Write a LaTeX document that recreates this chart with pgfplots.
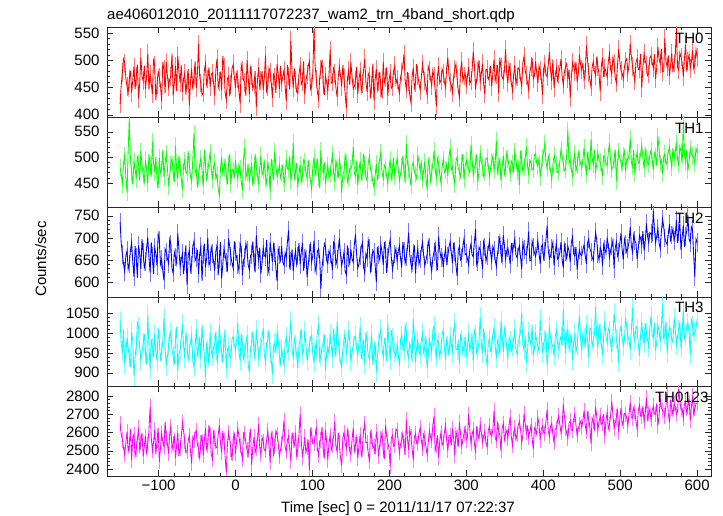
\documentclass[border=0pt]{standalone}
\usepackage{fontspec}
\setmainfont{Liberation Sans}
\usepackage{pgfplots}
\pgfplotsset{compat=1.18}
\usepackage{pgfplotstable}
\definecolor{cR}{RGB}{255,0,0}
\definecolor{cG}{RGB}{0,255,0}
\definecolor{cB}{RGB}{0,0,255}
\definecolor{cC}{RGB}{0,255,255}
\definecolor{cM}{RGB}{255,0,255}
\definecolor{lR}{RGB}{255,120,120}
\definecolor{lG}{RGB}{130,255,130}
\definecolor{lB}{RGB}{120,120,255}
\definecolor{lC}{RGB}{130,255,255}
\definecolor{lM}{RGB}{255,120,255}

\pgfplotstableread{
t a b c d e
-150 420 480 735 1030 2650
-148.5 455 468 688 972 2590
-147 478 445 662 955 2560
-145.5 502 489 641 1008 2515
-144 495 503 624 921 2480
-142.5 468 461 659 947 2540
-141 452 431 671 988 2605
-139.5 439 512 629 962 2495
-138 466 575 641 940 2530
-136.5 481 493 672 915 2620
-135 441 470 690 1002 2450
-133.5 463 447 645 980 2575
-132 488 492 612 893 2590
-130.5 447 478 681 938 2470
-129 470 458 655 967 2510
-127.5 492 503 610 1026 2560
-126 430 487 683 1015 2625
-124.5 458 455 664 961 2505
-123 505 512 630 932 2545
-121.5 471 484 697 949 2600
-120 462 466 667 975 2470
-118.5 490 452 632 998 2525
-117 447 495 646 948 2580
-115.5 471 476 679 921 2490
-114 512 449 701 1045 2535
-112.5 446 507 657 969 2610
-111 475 483 622 910 2740
-109.5 458 462 690 985 2575
-108 438 530 659 962 2500
-106.5 503 489 618 940 2545
-105 490 471 678 997 2615
-103.5 427 501 664 952 2480
-102 455 455 637 929 2555
-100.5 480 440 709 1013 2625
-99 468 499 695 981 2440
-97.5 454 470 640 935 2515
-96 425 476 651 951 2595
-94.5 497 515 625 978 2550
-93 483 462 604 1038 2520
-91.5 440 488 675 960 2660
-90 497 507 668 918 2570
-88.5 472 480 653 940 2540
-87 451 444 642 966 2485
-85.5 465 465 697 995 2595
-84 470 488 686 1003 2630
-82.5 512 498 630 957 2505
-81 436 470 620 942 2540
-79.5 458 452 668 921 2580
-78 489 522 657 985 2460
-76.5 444 475 642 1015 2530
-75 508 459 710 904 2600
-73.5 479 503 674 946 2470
-72 459 481 635 958 2515
-70.5 491 460 651 987 2575
-69 442 437 664 1022 2655
-67.5 466 486 618 969 2610
-66 476 494 648 937 2550
-64.5 437 471 683 1004 2490
-63 463 468 593 971 2495
-61.5 484 512 660 932 2555
-60 418 485 672 950 2585
-58.5 461 463 626 978 2500
-57 485 452 639 993 2430
-55.5 446 495 681 930 2575
-54 471 547 692 915 2560
-52.5 498 470 648 966 2600
-51 449 477 655 1010 2610
-49.5 476 441 673 946 2535
-48 530 461 618 962 2505
-46.5 469 487 665 990 2460
-45 458 498 680 934 2545
-43.5 436 474 602 1021 2590
-42 440 443 661 979 2475
-40.5 481 515 687 943 2555
-39 494 486 633 888 2625
-37.5 455 458 654 971 2510
-36 466 472 700 956 2530
-34.5 487 492 638 917 2640
-33 452 509 647 1000 2590
-31.5 474 479 679 958 2480
-30 477 456 665 941 2455
-28.5 459 482 647 965 2600
-27 435 490 626 972 2570
-25.5 483 459 670 1004 2515
-24 503 467 684 926 2520
-22.5 450 437 615 949 2585
-21 461 426 652 1018 2640
-19.5 479 479 691 977 2545
-18 445 501 608 953 2490
-16.5 508 468 640 925 2610
-15 487 479 676 986 2555
-13.5 441 492 662 1001 2470
-12 428 463 644 909 2380
-10.5 466 451 629 958 2535
-9 470 488 699 964 2600
-7.5 434 506 681 941 2560
-6 456 448 658 937 2510
-4.5 485 477 643 985 2445
-3 492 474 631 991 2565
-1.5 470 463 692 970 2590
0 449 495 669 958 2485
1.5 476 471 655 983 2555
3 466 458 640 1025 2620
4.5 441 486 624 951 2580
6 421 477 687 930 2530
7.5 492 452 679 997 2490
9 481 436 615 969 2455
10.5 463 498 650 936 2600
12 459 519 655 946 2595
13.5 435 459 688 974 2540
15 500 470 673 995 2505
16.5 469 483 638 920 2475
18 438 452 628 901 2560
19.5 485 472 661 960 2620
21 472 489 662 977 2425
22.5 447 444 692 1003 2515
24 455 465 645 954 2575
25.5 480 507 622 939 2490
27 414 481 706 1008 2515
28.5 462 466 670 976 2560
30 487 447 650 939 2645
31.5 451 479 678 962 2520
33 463 503 619 966 2480
34.5 480 465 643 990 2575
36 446 474 678 1012 2550
37.5 468 490 660 945 2500
39 509 460 657 927 2500
40.5 443 448 695 975 2560
42 452 491 634 983 2610
43.5 486 474 621 1007 2530
45 478 433 690 950 2435
46.5 459 497 667 931 2595
48 431 478 645 896 2565
49.5 474 455 684 968 2480
51 469 512 667 974 2525
52.5 440 483 631 950 2610
54 493 463 602 1001 2590
55.5 476 471 676 982 2545
57 447 485 661 944 2470
58.5 489 460 649 923 2505
60 458 469 681 961 2540
61.5 470 486 645 938 2585
63 482 449 638 920 2665
64.5 453 461 666 977 2520
66 425 497 655 990 2495
67.5 491 478 691 951 2560
69 471 476 717 955 2580
70.5 446 502 629 994 2505
72 536 455 648 1031 2445
73.5 478 471 674 960 2600
75 450 528 625 936 2555
76.5 485 459 653 987 2530
78 464 471 671 970 2600
79.5 442 489 640 943 2470
81 440 442 659 912 2510
82.5 475 467 688 969 2590
84 489 486 640 982 2700
85.5 456 452 668 1010 2555
87 461 466 688 948 2465
88.5 498 495 626 955 2515
90 437 491 653 1004 2575
91.5 462 470 669 970 2490
93 474 458 611 931 2520
94.5 489 495 637 955 2560
96 498 474 666 967 2395
97.5 447 453 684 988 2615
99 452 438 645 994 2590
100.5 477 482 660 946 2540
102 557 500 694 925 2540
103.5 490 466 625 973 2580
105 466 480 636 958 2630
106.5 441 497 670 1002 2505
108 429 462 675 1019 2475
109.5 470 440 652 931 2555
111 483 513 585 942 2560
112.5 501 475 633 964 2630
114 455 471 658 976 2505
115.5 436 490 687 995 2470
117 471 447 679 905 2615
118.5 460 469 648 950 2545
120 444 484 642 963 2450
121.5 473 460 671 947 2540
123 519 467 663 998 2585
124.5 458 490 648 969 2505
126 460 505 627 938 2530
127.5 485 471 690 1011 2580
129 476 452 685 972 2660
130.5 450 496 639 940 2525
132 433 476 651 1027 2495
133.5 468 459 674 982 2600
135 488 495 699 951 2545
136.5 472 482 661 926 2460
138 452 431 637 915 2420
139.5 491 466 650 959 2570
141 467 473 668 984 2600
142.5 439 505 624 998 2540
144 412 489 616 946 2515
145.5 466 452 683 967 2610
147 481 460 656 1006 2570
148.5 455 478 641 981 2495
150 496 478 674 929 2480
151.5 470 485 652 951 2560
153 448 521 645 968 2625
154.5 452 469 686 989 2500
156 463 464 708 992 2535
157.5 488 493 660 960 2575
159 438 446 632 943 2460
160.5 466 474 641 976 2530
162 479 493 660 1014 2590
163.5 443 458 679 935 2475
165 457 470 689 957 2510
166.5 482 507 633 983 2615
168 503 485 621 921 2650
169.5 459 461 664 1002 2545
171 442 455 654 979 2545
172.5 476 488 695 944 2490
174 470 502 677 935 2440
175.5 430 476 626 966 2600
177 455 468 643 997 2580
178.5 494 452 672 920 2515
180 426 441 667 952 2525
181.5 465 466 638 977 2480
183 484 487 600 903 2605
184.5 447 455 679 941 2560
186 461 474 661 975 2470
187.5 478 498 650 996 2535
189 449 510 684 1009 2565
190.5 430 470 667 958 2600
192 497 459 639 940 2500
193.5 459 485 690 987 2455
195 468 480 672 966 2640
196.5 487 463 620 929 2580
198 435 449 655 1023 2545
199.5 463 479 681 971 2510
201 476 496 696 933 2415
202.5 449 458 657 1007 2570
204 452 472 628 987 2585
205.5 481 500 645 955 2525
207 490 463 663 949 2530
208.5 457 481 676 939 2620
210 465 499 648 971 2610
211.5 452 478 669 945 2555
213 440 454 682 918 2490
214.5 469 467 654 983 2535
216 478 482 633 996 2560
217.5 491 503 691 960 2595
219 511 468 670 955 2520
220.5 462 455 642 1019 2490
222 447 527 657 1002 2670
223.5 478 490 677 948 2565
225 460 476 712 937 2505
226.5 436 461 663 974 2620
228 423 445 641 962 2580
229.5 470 484 629 927 2515
231 486 490 666 1036 2450
232.5 448 472 683 993 2575
234 458 466 619 926 2595
235.5 493 458 658 966 2540
237 472 505 675 980 2540
238.5 457 489 640 951 2600
240 445 473 652 945 2625
241.5 468 489 674 980 2560
243 493 458 690 999 2515
244.5 477 474 661 951 2590
246 462 492 637 963 2570
247.5 450 461 649 992 2520
249 437 437 662 911 2480
250.5 489 496 693 942 2545
252 481 484 679 985 2610
253.5 465 453 640 970 2575
255 454 470 625 953 2555
256.5 482 488 655 1006 2640
258 470 513 668 1018 2690
259.5 446 476 687 957 2500
261 416 461 646 939 2530
262.5 472 497 627 981 2585
264 489 488 703 974 2465
265.5 458 467 671 939 2555
267 463 450 655 960 2600
268.5 484 481 663 995 2530
270 476 496 633 1007 2545
271.5 460 470 659 963 2600
273 450 475 676 932 2640
274.5 487 487 644 984 2555
276 505 464 659 968 2500
277.5 473 501 680 941 2585
279 459 518 691 990 2585
280.5 454 476 666 975 2530
282 441 482 642 947 2620
283.5 470 460 689 1009 2570
285 484 448 669 1024 2475
286.5 493 492 638 958 2610
288 466 501 614 958 2570
289.5 445 479 672 976 2520
291 432 471 681 922 2655
292.5 481 462 650 993 2595
294 498 489 654 983 2525
295.5 462 507 681 948 2560
297 471 457 698 965 2595
298.5 476 484 662 986 2625
300 455 494 664 941 2560
301.5 471 483 652 968 2575
303 488 478 639 1001 2700
304.5 457 470 673 953 2620
306 463 524 686 975 2540
307.5 482 496 662 992 2590
309 516 466 657 928 2615
310.5 491 480 690 1006 2540
312 447 487 720 994 2490
313.5 466 506 638 948 2635
315 479 452 646 956 2590
316.5 500 474 679 981 2565
318 461 508 673 1040 2645
319.5 475 492 655 969 2600
321 494 481 629 949 2550
322.5 458 463 691 1011 2580
324 438 470 679 978 2605
325.5 483 498 647 943 2545
327 483 499 660 917 2520
328.5 465 485 676 975 2610
330 470 462 692 986 2635
331.5 489 478 666 955 2590
333 452 491 648 961 2580
334.5 476 503 681 998 2615
336 501 475 671 1013 2720
337.5 462 490 650 967 2570
339 474 532 635 937 2555
340.5 491 471 663 980 2650
342 440 484 684 970 2610
343.5 505 497 702 946 2585
345 487 455 663 1029 2500
346.5 469 480 647 993 2625
348 465 503 706 952 2650
349.5 481 467 684 1011 2560
351 520 479 652 995 2595
352.5 475 509 670 962 2610
354 458 497 677 934 2570
355.5 493 484 660 988 2640
357 478 468 641 981 2685
358.5 458 493 688 955 2575
360 444 488 668 964 2530
361.5 473 470 683 985 2600
363 491 511 697 1011 2625
364.5 455 496 661 959 2560
366 469 473 655 946 2590
367.5 486 487 672 976 2640
369 483 446 682 989 2660
370.5 464 513 655 1002 2615
372 453 496 630 1051 2545
373.5 495 471 690 970 2585
375 507 481 674 958 2705
376.5 481 500 662 994 2650
378 472 520 661 924 2600
379.5 459 484 680 953 2630
381 446 465 714 1003 2575
382.5 478 495 648 982 2605
384 489 490 649 972 2640
385.5 504 476 693 1020 2570
387 466 476 679 942 2510
388.5 471 505 667 961 2625
390 498 507 658 997 2615
391.5 477 488 671 981 2590
393 458 483 693 967 2680
394.5 490 499 665 952 2645
396 481 462 641 1035 2560
397.5 466 480 680 990 2620
399 436 499 685 950 2635
400.5 485 511 654 976 2600
402 493 527 669 983 2595
403.5 473 492 697 1003 2660
405 470 478 727 919 2725
406.5 492 503 672 957 2610
408 515 491 653 1016 2580
409.5 481 474 659 985 2635
411 462 456 676 975 2650
412.5 501 485 690 964 2590
414 449 504 637 943 2545
415.5 472 496 668 991 2620
417 486 486 688 1006 2620
418.5 463 470 652 975 2665
420 474 470 655 960 2690
421.5 486 492 667 977 2645
423 502 515 690 992 2600
424.5 471 502 650 968 2630
426 455 489 632 1058 2755
427.5 479 474 684 989 2690
429 488 477 668 948 2625
430.5 494 506 653 1004 2595
432 467 553 681 1008 2570
433.5 483 488 670 959 2650
435 431 494 645 974 2665
436.5 469 479 690 995 2615
438 496 461 702 931 2610
439.5 488 494 664 976 2675
441 479 508 659 999 2700
442.5 497 472 680 952 2640
444 460 484 628 966 2585
445.5 475 510 655 1008 2620
447 510 498 672 1044 2645
448.5 492 488 662 985 2660
450 483 479 660 955 2630
451.5 494 496 673 998 2665
453 465 519 684 987 2720
454.5 472 488 660 970 2640
456 527 466 641 1021 2605
457.5 501 506 688 983 2705
459 478 493 697 939 2675
460.5 465 475 676 1011 2635
462 451 535 668 1012 2540
463.5 488 499 656 964 2680
465 497 487 649 979 2660
466.5 480 515 682 996 2620
468 472 472 712 1066 2740
469.5 507 486 695 987 2690
471 488 509 663 962 2615
472.5 474 494 649 1023 2660
474 443 491 678 998 2690
475.5 490 479 670 972 2645
477 505 463 637 945 2650
478.5 469 503 685 990 2700
480 486 501 674 1030 2580
481.5 478 488 665 990 2665
483 469 484 698 976 2710
484.5 497 509 686 1012 2620
486 512 528 656 1004 2645
487.5 483 493 671 975 2690
489 474 476 682 952 2770
490.5 505 481 694 998 2700
492 495 497 631 1049 2625
493.5 468 515 677 1021 2650
495 458 454 691 985 2685
496.5 491 490 659 968 2720
498 521 512 667 927 2600
499.5 499 499 688 1004 2675
501 481 489 710 1017 2735
502.5 476 478 672 989 2640
504 466 503 651 968 2660
505.5 488 512 697 982 2705
507 499 473 685 1039 2700
508.5 503 497 668 1015 2680
510 477 495 676 993 2640
511.5 492 505 692 979 2700
513 530 537 725 958 2765
514.5 506 491 681 1008 2680
516 489 482 668 1062 2680
517.5 475 514 707 992 2735
519 462 469 694 980 2715
520.5 497 497 688 1017 2660
522 503 510 652 1010 2620
523.5 483 488 676 973 2720
525 484 491 706 943 2750
526.5 511 507 699 995 2690
528 449 523 684 1027 2690
529.5 488 499 715 986 2745
531 512 478 671 974 2660
532.5 499 515 690 1025 2705
534 491 499 733 1001 2790
535.5 472 489 704 983 2675
537 475 486 689 965 2705
538.5 504 503 712 1012 2730
540 508 514 710 1043 2670
541.5 496 498 697 994 2720
543 486 475 762 988 2745
544.5 511 509 719 1026 2700
546 466 502 689 956 2700
547.5 487 483 704 977 2760
549 524 541 721 1020 2640
550.5 503 517 688 1003 2690
552 494 488 676 978 2780
553.5 521 495 714 1015 2735
555 479 468 743 1071 2720
556.5 480 502 726 987 2715
558 540 507 700 996 2690
559.5 498 486 690 1030 2750
561 488 493 685 949 2810
562.5 509 511 709 992 2705
564 471 520 731 1014 2655
565.5 492 497 695 1009 2770
567 513 481 706 983 2735
568.5 478 518 721 976 2695
570 495 498 694 1037 2760
571.5 508 510 705 1011 2740
573 559 529 740 970 2700
574.5 487 496 688 990 2715
576 482 486 715 1008 2840
577.5 514 521 733 1027 2775
579 506 511 672 961 2725
580.5 496 488 701 998 2730
582 470 570 728 1055 2680
583.5 503 505 679 985 2760
585 528 492 703 991 2770
586.5 479 515 716 1019 2705
588 499 474 751 1025 2745
589.5 511 492 697 1004 2785
591 485 517 690 945 2665
592.5 497 507 725 1036 2740
594 518 503 719 1018 2800
595.5 485 499 660 993 2700
597 492 489 612 1002 2730
598.5 520 518 698 1012 2760
600 505 509 690 1034 2760
}\lcdata

\pgfplotsset{
  panel/.style={
    scale only axis, width=604pt,
    xmin=-167, xmax=618,
    xtick={-100,0,...,600}, minor x tick num=4,
    minor y tick num=4,
    xticklabels={},
    tick align=inside,
    major tick length=6pt, minor tick length=3pt,
    axis line style={black!85, line width=0.8pt},
    tick style={black!85, line width=0.6pt},
    tick label style={font=\fontsize{15}{15}\selectfont},
    yticklabel style={xshift=-4pt},
    /pgf/number format/assume math mode=true,
    /pgf/number format/1000 sep={},
    anchor=south west,
  },
  errs/.style 2 args={draw=none, mark=none, forget plot, each nth point=2,
    error bars/.cd, y dir=both, y fixed=#1, error mark=none,
    error bar style={line width=0.85pt, draw=#2}},
}
\tikzset{thlabel/.style={anchor=base west, inner sep=0pt, font=\fontsize{15}{15}\selectfont}}

\begin{document}
\begin{tikzpicture}[x=1pt,y=1pt]
\useasboundingbox (0,0) rectangle (723,516);

\begin{axis}[panel, at={(107pt,399pt)}, height=90pt, ymin=396, ymax=561, ytick={400,450,500,550}]
\addplot[errs={17}{lR}] table[x=t,y=a]{\lcdata};
\addplot[cR, line width=0.85pt] table[x=t,y=a]{\lcdata};
\node[thlabel] at (rel axis cs:0.9404,0.822) {TH0};
\end{axis}

\begin{axis}[panel, at={(107pt,309pt)}, height=90pt, ymin=403, ymax=579, ytick={450,500,550}]
\addplot[errs={17}{lG}] table[x=t,y=b]{\lcdata};
\addplot[cG, line width=0.85pt] table[x=t,y=b]{\lcdata};
\node[thlabel] at (rel axis cs:0.9404,0.822) {TH1};
\end{axis}

\begin{axis}[panel, at={(107pt,219pt)}, height=90pt, ymin=566, ymax=770, ytick={600,650,700,750}]
\addplot[errs={21}{lB}] table[x=t,y=c]{\lcdata};
\addplot[cB, line width=0.85pt] table[x=t,y=c]{\lcdata};
\node[thlabel] at (rel axis cs:0.9404,0.822) {TH2};
\end{axis}

\begin{axis}[panel, at={(107pt,130pt)}, height=89pt, ymin=867, ymax=1090, ytick={900,950,1000,1050}]
\addplot[errs={25}{lC}] table[x=t,y=d]{\lcdata};
\addplot[cC, line width=0.85pt] table[x=t,y=d]{\lcdata};
\node[thlabel] at (rel axis cs:0.9404,0.822) {TH3};
\end{axis}

\begin{axis}[panel, at={(107pt,40pt)}, height=90pt, ymin=2362, ymax=2855, ytick={2400,2500,2600,2700,2800},
  xticklabels={−100,0,100,200,300,400,500,600}]
\addplot[errs={42}{lM}] table[x=t,y=e]{\lcdata};
\addplot[cM, line width=0.85pt] table[x=t,y=e]{\lcdata};
\node[thlabel] at (rel axis cs:0.907,0.815) {TH0123};
\end{axis}

\node[anchor=base west, inner sep=0pt, font=\fontsize{15}{15}\selectfont] at (107,496) {ae406012010\_20111117072237\_wam2\_trn\_4band\_short.qdp};
\node[anchor=base, inner sep=0pt, rotate=90, font=\fontsize{15}{15}\selectfont] at (46,257) {Counts/sec};
\node[anchor=base, inner sep=0pt, font=\fontsize{15}{15}\selectfont] at (398,3) {Time [sec] 0 = 2011/11/17 07:22:37};
\end{tikzpicture}
\end{document}
